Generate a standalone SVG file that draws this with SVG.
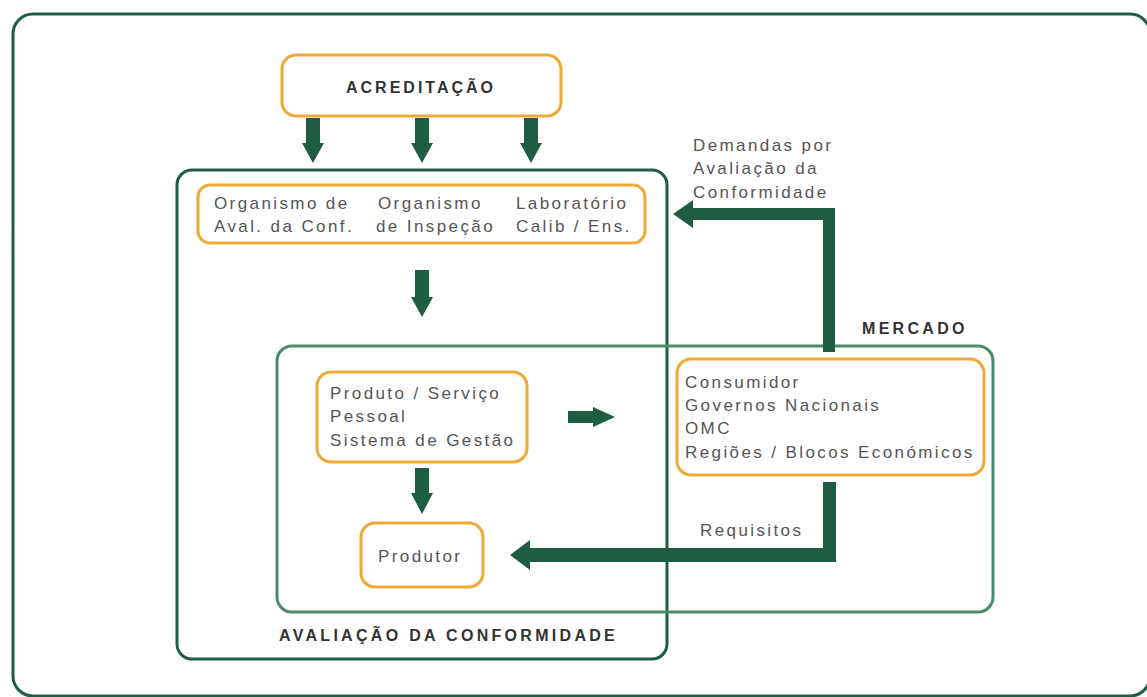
<svg xmlns="http://www.w3.org/2000/svg" width="1147" height="697" viewBox="0 0 1147 697">
<style>
.frame{fill:none;stroke:#1f5e44;stroke-width:3}
.mkt{fill:none;stroke:#4d8a6d;stroke-width:3}
.node{fill:#fff;stroke:#f0a935;stroke-width:3}
.t{font-family:"Liberation Sans",Arial,sans-serif;font-size:17px;fill:#555;letter-spacing:2.4px}
.b{font-family:"Liberation Sans",Arial,sans-serif;font-size:16px;font-weight:bold;fill:#333;letter-spacing:3.3px}
.arr{fill:#1e5c43}
</style>
<rect width="1147" height="697" fill="#fff"/>
<rect class="frame" x="13" y="14" width="1137" height="682" rx="20"/>
<g id="avaliacao">
<rect class="frame" x="177" y="170" width="490" height="489" rx="15"/>
<text class="b" x="279" y="641">AVALIAÇÃO DA CONFORMIDADE</text>
</g>
<g id="mercado">
<rect class="mkt" x="277" y="346" width="716" height="266" rx="15"/>
<text class="b" x="862" y="334">MERCADO</text>
</g>
<g id="connectors">
<path class="arr" d="M306,118h14v25h4l-11,20l-11,-20h4z"/>
<path class="arr" d="M415,118h14v25h4l-11,20l-11,-20h4z"/>
<path class="arr" d="M524,118h14v25h4l-11,20l-11,-20h4z"/>
<path class="arr" d="M415,270h14v27h4l-11,20l-11,-20h4z"/>
<path class="arr" d="M415,468h14v25h4l-11,21l-11,-21h4z"/>
<path class="arr" d="M568,411h25v-4l22,10l-22,10v-4h-25z"/>
<path class="arr" d="M835,352h-12v-132h-130v8l-20,-14l20,-14v8h142z"/>
<path class="arr" d="M823,482h13v80h-306v8l-20,-15l20,-15v8h293z"/>
<text class="t" x="693" y="151">Demandas por</text>
<text class="t" x="693" y="174">Avaliação da</text>
<text class="t" x="693" y="198">Conformidade</text>
<text class="t" x="700" y="536">Requisitos</text>
</g>
<g id="acreditacao">
<rect class="node" x="282" y="55" width="279" height="61" rx="14"/>
<text class="b" x="346" y="93" style="letter-spacing:3px">ACREDITAÇÃO</text>
</g>
<g id="organismos">
<rect class="node" x="198" y="185" width="447" height="58" rx="12"/>
<text class="t" x="214" y="209">Organismo de</text>
<text class="t" x="214" y="232">Aval. da Conf.</text>
<text class="t" x="378" y="209">Organismo</text>
<text class="t" x="376" y="232">de Inspeção</text>
<text class="t" x="516" y="209">Laboratório</text>
<text class="t" x="516" y="232">Calib / Ens.</text>
</g>
<g id="produto">
<rect class="node" x="317" y="372" width="210" height="90" rx="14"/>
<text class="t" x="330" y="399">Produto / Serviço</text>
<text class="t" x="330" y="422">Pessoal</text>
<text class="t" x="330" y="446">Sistema de Gestão</text>
</g>
<g id="produtor">
<rect class="node" x="361" y="523" width="122" height="64" rx="14"/>
<text class="t" x="378" y="562">Produtor</text>
</g>
<g id="consumidor">
<rect class="node" x="677" y="359" width="307" height="116" rx="14"/>
<text class="t" x="685" y="388">Consumidor</text>
<text class="t" x="685" y="411">Governos Nacionais</text>
<text class="t" x="685" y="434">OMC</text>
<text class="t" x="685" y="458">Regiões / Blocos Económicos</text>
</g>
</svg>
